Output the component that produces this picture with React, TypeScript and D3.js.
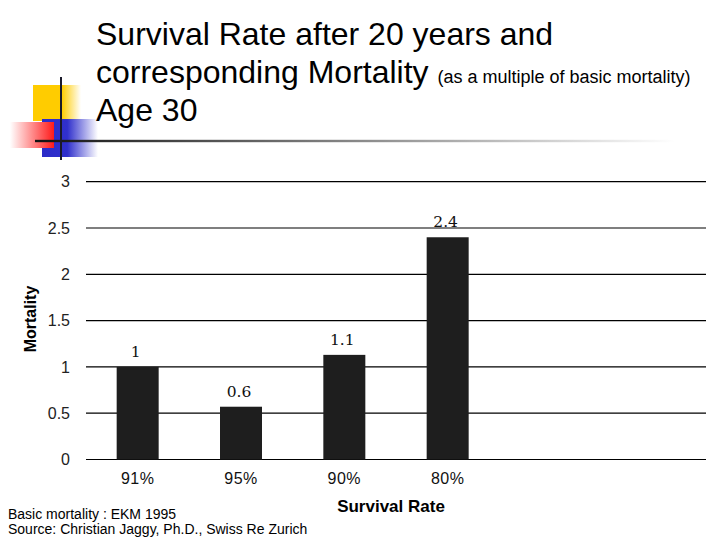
import * as d3 from 'd3'
import { FC, useEffect, useRef } from 'react'

const categories = ['91%', '95%', '90%', '80%']
const mortality = [1, 0.57, 1.13, 2.4]
const valueLabels = ['1', '0.6', '1.1', '2.4']
const yTicks = [0, 0.5, 1, 1.5, 2, 2.5, 3]

const W = 720
const H = 540

const App: FC = () => {
  const ref = useRef<SVGSVGElement>(null)

  useEffect(() => {
    drawChart()
  }, [])

  const drawChart = () => {
    const svg = d3.select(ref.current)
    svg.selectAll('*').remove()

    const plot = { left: 86, right: 706, top: 181.7, bottom: 459.5 }
    const step = (plot.right - plot.left) / 6

    const xScale = d3.scaleBand().domain(categories).range([plot.left, plot.left + step * categories.length])
    const yScale = d3.scaleLinear().domain([0, 3]).range([plot.bottom, plot.top])
    const barW = 42

    // logo
    const defs = svg.append('defs')
    const yellowGrad = defs.append('linearGradient').attr('id', 'yg')
    yellowGrad.append('stop').attr('offset', '0%').attr('stop-color', '#ffcc00')
    yellowGrad.append('stop').attr('offset', '60%').attr('stop-color', '#ffcc00')
    yellowGrad.append('stop').attr('offset', '100%').attr('stop-color', '#ffffff')
    const blueGrad = defs.append('linearGradient').attr('id', 'bg')
    blueGrad.append('stop').attr('offset', '0%').attr('stop-color', '#2b2bc8')
    blueGrad.append('stop').attr('offset', '45%').attr('stop-color', '#3030cc')
    blueGrad.append('stop').attr('offset', '100%').attr('stop-color', '#ffffff')
    const redGrad = defs.append('linearGradient').attr('id', 'rg')
    redGrad.append('stop').attr('offset', '0%').attr('stop-color', '#ffffff')
    redGrad.append('stop').attr('offset', '100%').attr('stop-color', '#ff1a1a')
    const lineGrad = defs.append('linearGradient').attr('id', 'lg')
    lineGrad.append('stop').attr('offset', '0%').attr('stop-color', '#111111')
    lineGrad.append('stop').attr('offset', '100%').attr('stop-color', '#ffffff')

    svg.append('rect').attr('x', 33).attr('y', 85).attr('width', 48).attr('height', 36).attr('fill', 'url(#yg)')
    svg.append('rect').attr('x', 42).attr('y', 119).attr('width', 56).attr('height', 38).attr('fill', 'url(#bg)')
    svg.append('rect').attr('x', 10).attr('y', 122).attr('width', 44).attr('height', 26).attr('fill', 'url(#rg)')
    svg.append('rect').attr('x', 35).attr('y', 139.8).attr('width', 640).attr('height', 2.4).attr('fill', 'url(#lg)')
    svg.append('line').attr('x1', 61).attr('x2', 61).attr('y1', 77).attr('y2', 160)
      .attr('stroke', '#1a1a2a').attr('stroke-width', 2)

    // title
    const title = svg.append('text').attr('font-family', 'Liberation Sans, Arial, sans-serif')
      .attr('font-size', 32).attr('fill', '#000')
    title.append('tspan').attr('x', 96).attr('y', 45).text('Survival Rate after 20 years and')
    const t2 = title.append('tspan').attr('x', 96).attr('y', 83)
    t2.append('tspan').text('corresponding Mortality ')
    t2.append('tspan').attr('font-size', 18).text('(as a multiple of basic mortality)')
    title.append('tspan').attr('x', 96).attr('y', 121).text('Age 30')

    // gridlines
    svg.append('g').selectAll('line').data(yTicks).enter().append('line')
      .attr('x1', plot.left).attr('x2', plot.right)
      .attr('y1', d => yScale(d)).attr('y2', d => yScale(d))
      .attr('stroke', '#000').attr('stroke-width', 1.2)

    // y tick labels
    svg.append('g').selectAll('text').data(yTicks).enter().append('text')
      .attr('x', 70).attr('y', d => yScale(d)).attr('dy', '0.35em')
      .attr('text-anchor', 'end').attr('font-family', 'Liberation Sans, Arial, sans-serif')
      .attr('font-size', 16).attr('fill', '#222')
      .text(d => String(d))

    // bars
    svg.append('g').selectAll('rect').data(mortality).enter().append('rect')
      .attr('x', (d, i) => (xScale(categories[i]) as number) + xScale.bandwidth() / 2 - barW / 2)
      .attr('y', d => yScale(d))
      .attr('width', barW)
      .attr('height', d => plot.bottom - yScale(d))
      .attr('fill', '#1e1e1e')

    // value labels
    svg.append('g').selectAll('text').data(mortality).enter().append('text')
      .attr('x', (d, i) => (xScale(categories[i]) as number) + xScale.bandwidth() / 2 - 2)
      .attr('y', d => yScale(d) - 10)
      .attr('text-anchor', 'middle').attr('font-family', 'DejaVu Serif, serif')
      .attr('font-size', 15.5).attr('fill', '#111')
      .text((d, i) => valueLabels[i])

    // category labels
    svg.append('g').selectAll('text').data(categories).enter().append('text')
      .attr('x', d => (xScale(d) as number) + xScale.bandwidth() / 2)
      .attr('y', 484)
      .attr('text-anchor', 'middle').attr('font-family', 'Liberation Sans, Arial, sans-serif')
      .attr('font-size', 16).attr('letter-spacing', 0.5).attr('fill', '#111')
      .text(d => d)

    // axis titles
    svg.append('text').attr('transform', 'translate(36,319) rotate(-90)')
      .attr('text-anchor', 'middle').attr('font-family', 'Liberation Sans, Arial, sans-serif')
      .attr('font-size', 16).attr('font-weight', 'bold').text('Mortality')
    svg.append('text').attr('x', 391).attr('y', 512)
      .attr('text-anchor', 'middle').attr('font-family', 'Liberation Sans, Arial, sans-serif')
      .attr('font-size', 17).attr('font-weight', 'bold').text('Survival Rate')

    // footnote
    const foot = svg.append('text').attr('font-family', 'Liberation Sans, Arial, sans-serif')
      .attr('font-size', 14).attr('fill', '#000')
    foot.append('tspan').attr('x', 8).attr('y', 519).text('Basic mortality : EKM 1995')
    foot.append('tspan').attr('x', 8).attr('y', 534).text('Source: Christian Jaggy, Ph.D., Swiss Re Zurich')
  }

  return (
    <svg ref={ref} width={W} height={H} style={{ position: 'absolute', left: 0, top: 0, background: '#fff' }} />
  )
}

export default App
